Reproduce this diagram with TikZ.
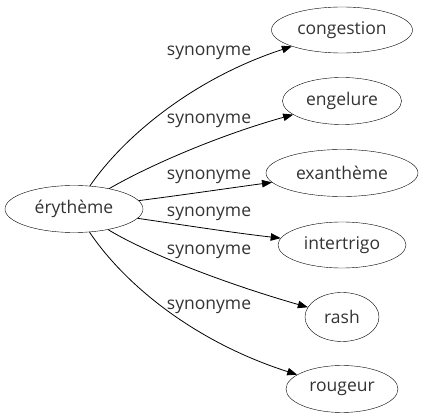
\documentclass[tikz,border=0pt]{standalone}
\usepackage{fontspec}
\setmainfont{Open Sans}
\usepackage{tikz}
\usetikzlibrary{arrows.meta, shapes.geometric}

\begin{document}
\begin{tikzpicture}[
  x=1pt, y=-1pt,
  word/.style={draw, ellipse, inner sep=0pt, text=black!80, font=\fontsize{17.5}{20}\selectfont},
  arrow/.style={-{Triangle[length=10pt, width=7.5pt]}, line width=0.8pt},
  label/.style={text=black!80, font=\fontsize{17.5}{20}\selectfont},
]
\useasboundingbox (0,0) rectangle (423,419);

% --- Nodes (graph laid out left to right)
\node[word, minimum width=138pt, minimum height=47pt] (ery)   at (74,209)  {érythème};
\node[word, minimum width=141pt, minimum height=46pt] (cong)  at (342,30)  {congestion};
\node[word, minimum width=119pt, minimum height=47pt] (eng)   at (342,101) {engelure};
\node[word, minimum width=152pt, minimum height=47pt] (exa)   at (342,173) {exanthème};
\node[word, minimum width=128pt, minimum height=46pt] (inter) at (342,245) {intertrigo};
\node[word, minimum width=74pt,  minimum height=49pt] (rash)  at (342,317) {rash};
\node[word, minimum width=112pt, minimum height=47pt] (roug)  at (342,389) {rougeur};

% --- Edge labels
\node[label] (l1) at (209,53)  {synonyme};
\node[label] (l2) at (209,121) {synonyme};
\node[label] (l3) at (209,177) {synonyme};
\node[label] (l4) at (209,214) {synonyme};
\node[label] (l5) at (209,252) {synonyme};
\node[label] (l6) at (209,307) {synonyme};

% --- Arrows
\draw[arrow] (ery) .. controls (125,135) and (195,78) .. (cong);
\draw[arrow] (ery) .. controls (150,165) and (220,135) .. (eng);
\draw[arrow] (ery) .. controls (190,194) and (230,188) .. (exa);
\draw[arrow] (ery) .. controls (190,226) and (235,233) .. (inter);
\draw[arrow] (ery) .. controls (150,255) and (230,285) .. (rash);
\draw[arrow] (ery) .. controls (125,285) and (195,342) .. (roug);

\end{tikzpicture}
\end{document}
